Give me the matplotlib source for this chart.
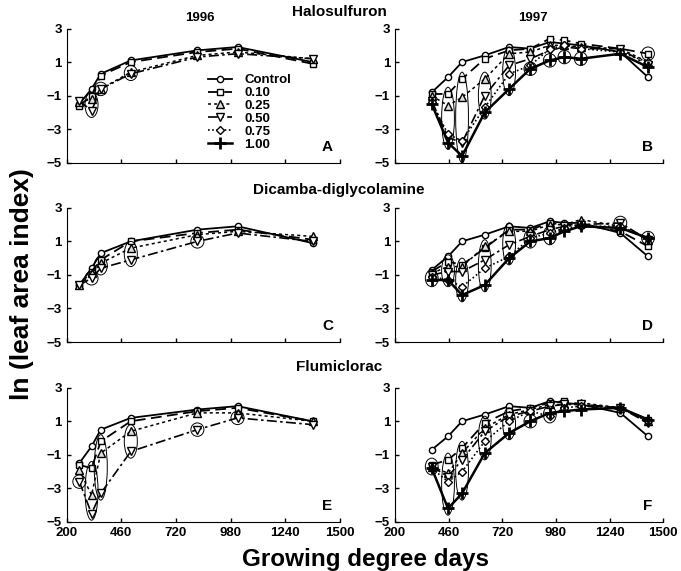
import matplotlib.pyplot as plt
from matplotlib.patches import Ellipse
from matplotlib.lines import Line2D

plt.rcParams['font.family'] = ['Liberation Sans', 'DejaVu Sans']

# growing degree days of the sampling dates
gdd_1996 = [260, 318, 362, 505, 822, 1013, 1370]
gdd_1997 = [378, 457, 525, 635, 753, 856, 950, 1021, 1100, 1292, 1426]

rates = ['Control', '0.10', '0.25', '0.50', '0.75', '1.00']

# ln(LAI), one list per rate
halo_1996 = [
    [-1.5, -0.6, 0.3, 1.1, 1.7, 1.9, 1.0],
    [-1.6, -1.0, 0.2, 1.0, 1.6, 1.8, 0.9],
    [-1.4, -1.2, -0.6, 0.4, 1.4, 1.6, 1.2],
    [-1.3, -1.9, -0.6, 0.3, 1.3, 1.5, 1.2],
]
halo_1997 = [
    [-0.8, 0.1, 1.0, 1.4, 1.9, 1.8, 2.2, 2.1, 2.0, 1.6, 0.1],
    [-0.9, -0.9, 0.0, 1.2, 1.7, 1.8, 2.4, 2.3, 2.1, 1.8, 1.5],
    [-1.0, -1.6, -1.1, 0.0, 1.5, 1.6, 2.0, 2.0, 1.9, 1.8, 1.0],
    [-1.3, -3.5, -3.8, -1.0, 0.8, 1.2, 1.7, 1.9, 1.8, 1.8, 0.8],
    [-1.4, -3.3, -3.7, -1.7, 0.3, 0.8, 1.8, 2.0, 1.8, 1.6, 1.0],
    [-1.5, -3.8, -4.6, -2.0, -0.6, 0.6, 1.1, 1.3, 1.2, 1.5, 0.7],
]
dica_1996 = [
    [-1.6, -0.6, 0.3, 1.0, 1.7, 1.9, 0.9],
    [-1.6, -0.8, -0.1, 1.0, 1.5, 1.7, 1.1],
    [-1.6, -0.9, -0.3, 0.6, 1.4, 1.6, 1.3],
    [-1.6, -1.2, -0.6, -0.1, 1.0, 1.5, 1.0],
]
dica_1997 = [
    [-0.7, 0.1, 1.0, 1.4, 1.9, 1.8, 2.2, 2.1, 2.1, 1.5, 0.1],
    [-0.8, -0.2, -0.4, 0.6, 1.7, 1.7, 2.1, 2.0, 2.0, 1.6, 0.7],
    [-0.9, -0.5, -0.5, 0.7, 1.6, 1.6, 2.0, 2.0, 2.3, 1.9, 1.1],
    [-1.0, -0.8, -0.8, -0.1, 0.8, 1.3, 1.7, 1.9, 2.0, 2.1, 1.1],
    [-1.1, -1.3, -1.7, -0.6, 0.1, 1.2, 1.5, 1.8, 1.9, 1.9, 1.2],
    [-1.3, -1.3, -2.2, -1.6, 0.0, 1.0, 1.2, 1.6, 1.9, 1.8, 1.2],
]
flum_1996 = [
    [-1.5, -0.5, 0.5, 1.2, 1.7, 1.9, 1.0],
    [-1.6, -1.8, -0.2, 1.0, 1.6, 1.8, 1.0],
    [-1.9, -3.4, -0.9, 0.4, 1.5, 1.5, 1.0],
    [-2.6, -4.5, -3.3, -0.8, 0.5, 1.2, 0.8],
]
flum_1997 = [
    [-0.7, 0.1, 1.0, 1.4, 1.9, 1.8, 2.2, 2.1, 2.0, 1.5, 0.1],
    [-1.6, -1.3, -0.6, 0.9, 1.6, 1.8, 2.1, 2.2, 2.0, 1.8, 1.1],
    [-1.7, -2.1, -0.9, 0.6, 1.4, 1.7, 2.0, 2.0, 2.1, 1.8, 1.0],
    [-1.7, -2.3, -1.3, 0.4, 1.3, 1.6, 1.9, 2.0, 2.0, 1.8, 0.9],
    [-1.8, -2.6, -2.0, -0.2, 1.0, 1.6, 1.3, 1.8, 1.9, 1.8, 1.0],
    [-1.8, -4.2, -3.3, -0.9, 0.3, 1.0, 1.5, 1.6, 1.7, 1.8, 1.1],
]

# circled dates: (date index, rates enclosed)
circ_A = [(1, [2, 3]), (2, [2, 3]), (3, [2, 3])]
circ_B = [(1, [1, 2, 3, 4, 5]), (2, [1, 2, 3, 4, 5]), (3, [2, 3, 4, 5]),
          (4, [2, 3, 4, 5]), (5, [5]), (6, [5]), (7, [5]), (8, [5]), (10, [1])]
circ_C = [(1, [3]), (2, [2, 3]), (3, [2, 3]), (4, [3])]
circ_D = [(0, [4, 5]), (1, [1, 2, 3, 4, 5]), (2, [1, 2, 3, 4, 5]), (3, [1, 2, 3, 4, 5]),
          (4, [1, 2, 3, 4, 5]), (5, [3, 4, 5]), (6, [4, 5]), (9, [3]), (10, [5])]
circ_E = [(0, [3]), (1, [1, 2, 3]), (2, [1, 2, 3]), (3, [2, 3]), (4, [3]), (5, [3])]
circ_F = [(0, [1, 2, 3, 4, 5]), (1, [1, 2, 3, 4, 5]), (2, [1, 2, 3, 4, 5]), (3, [1, 2, 3, 4, 5]),
          (4, [2, 3, 4, 5]), (5, [5]), (6, [4, 5])]

styles = [
    dict(ls='-', lw=1.3, marker='o', ms=4.5, mfc='white'),
    dict(ls=(0, (6, 3)), lw=1.3, marker='s', ms=5, mfc='white'),
    dict(ls=(0, (2, 2)), lw=1.1, marker='^', ms=6, mfc='#dddddd'),
    dict(ls=(0, (6, 2, 1.5, 2)), lw=1.2, marker='v', ms=6, mfc='white'),
    dict(ls=(0, (1, 1.5)), lw=1.2, marker='D', ms=4.5, mfc='white'),
    dict(ls='-', lw=1.8, marker='+', ms=8, mew=2.0),
]

fig = plt.figure(figsize=(6.81, 5.71), dpi=100)
lefts = [0.098, 0.580]
widths = [0.401, 0.394]
bottoms = [0.715, 0.401, 0.086]
height = 0.235

panels = [
    (0, 0, gdd_1996, halo_1996, circ_A, 'A'),
    (0, 1, gdd_1997, halo_1997, circ_B, 'B'),
    (1, 0, gdd_1996, dica_1996, circ_C, 'C'),
    (1, 1, gdd_1997, dica_1997, circ_D, 'D'),
    (2, 0, gdd_1996, flum_1996, circ_E, 'E'),
    (2, 1, gdd_1997, flum_1997, circ_F, 'F'),
]

axes = {}
for row, col, xs, series, circ, letter in panels:
    ax = fig.add_axes([lefts[col], bottoms[row], widths[col], height])
    axes[letter] = ax
    for k, ys in enumerate(series):
        ax.plot(xs, ys, color='black', mec='black', clip_on=False, zorder=3, **styles[k])
    for idx, group in circ:
        vals = [series[k][idx] for k in group]
        lo, hi = min(vals), max(vals)
        ax.add_patch(Ellipse((xs[idx], (lo + hi) / 2), 62, hi - lo + 0.8,
                             fill=False, ec='black', lw=0.7, zorder=4, clip_on=False))
    ax.set_xlim(200, 1500)
    ax.set_ylim(-5, 3)
    ax.set_xticks(range(200, 1501, 260))
    ax.set_yticks([-5, -3, -1, 1, 3])
    for s in ['top', 'right']:
        ax.spines[s].set_visible(False)
    ax.tick_params(direction='in', length=3, labelsize=9.5, width=1)
    for t in ax.get_xticklabels() + ax.get_yticklabels():
        t.set_fontweight('bold')
    if row < 2:
        ax.tick_params(labelbottom=False)
    ax.text(0.955 if col == 0 else 0.94, 0.12, letter, transform=ax.transAxes,
            fontsize=11, fontweight='bold', ha='center', va='center')

handles = [Line2D([], [], color='black', mec='black', **styles[k]) for k in range(6)]
axes['A'].legend(handles, rates, loc='upper left', bbox_to_anchor=(0.49, 0.72),
                 frameon=False, prop={'weight': 'bold', 'size': 9.5},
                 labelspacing=0.05, handlelength=1.8, handletextpad=0.9,
                 borderpad=0.1)

fig.text(0.498, 0.979, 'Halosulfuron', ha='center', va='center', fontsize=11, fontweight='bold')
fig.text(0.498, 0.667, 'Dicamba-diglycolamine', ha='center', va='center', fontsize=11, fontweight='bold')
fig.text(0.498, 0.357, 'Flumiclorac', ha='center', va='center', fontsize=11, fontweight='bold')
fig.text(0.294, 0.968, '1996', ha='center', va='center', fontsize=9.5, fontweight='bold')
fig.text(0.783, 0.968, '1997', ha='center', va='center', fontsize=9.5, fontweight='bold')
fig.text(0.033, 0.502, 'ln (leaf area index)', rotation=90, ha='center', va='center',
         fontsize=19, fontweight='bold')
fig.text(0.537, 0.009, 'Growing degree days', ha='center', va='baseline',
         fontsize=17.5, fontweight='bold')

fig.savefig('out.png', dpi=100)
